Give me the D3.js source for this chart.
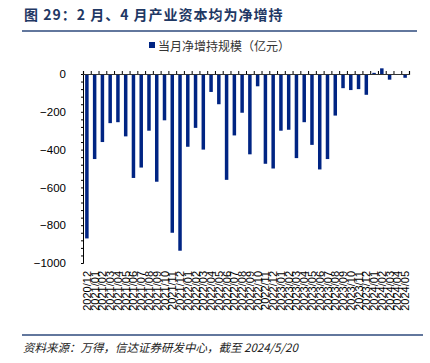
<!DOCTYPE html>
<html>
<head>
<meta charset="utf-8">
<script src="https://cdn.jsdelivr.net/npm/d3@7"></script>
<style>
  body { margin: 0; background: #fff; }
  svg { display: block; }
</style>
</head>
<body>
<div id="chart"></div>
<script>
const months = [
  "2020/12",
  "2021/01", "2021/02", "2021/03", "2021/04", "2021/05", "2021/06",
  "2021/07", "2021/08", "2021/09", "2021/10", "2021/11", "2021/12",
  "2022/01", "2022/02", "2022/03", "2022/04", "2022/05", "2022/06",
  "2022/07", "2022/08", "2022/09", "2022/10", "2022/11", "2022/12",
  "2023/01", "2023/02", "2023/03", "2023/04", "2023/05", "2023/06",
  "2023/07", "2023/08", "2023/09", "2023/10", "2023/11", "2023/12",
  "2024/01", "2024/02", "2024/03", "2024/04", "2024/05"
];
const netHold = [
  -870,
  -450, -360, -260, -255, -330, -550,
  -495, -300, -570, -245, -840, -935,
  -385, -285, -400, -95, -160, -560,
  -325, -205, -425, -65, -475, -500,
  -300, -295, -445, -255, -375, -505,
  -450, -220, -75, -85, -80, -110,
  6, 30, -30, -3, -20
];
const yTicks = [0, -200, -400, -600, -800, -1000];
const seriesName = "当月净增持规模（亿元）";
const title = "图 29：2 月、4 月产业资本均为净增持";
const source = "资料来源：万得，信达证券研发中心，截至 2024/5/20";

const W = 430, H = 363;
const margin = {top: 74, right: 21, bottom: 100, left: 83};
const width = W - margin.left - margin.right;
const height = 263 - margin.top;

const svg = d3.select("#chart").append("svg")
  .attr("width", W).attr("height", H);

// title and rules
svg.append("text")
  .attr("x", 24).attr("y", 20)
  .attr("font-family", "'Noto Sans CJK SC', sans-serif")
  .attr("font-size", 14).attr("font-weight", "bold")
  .attr("letter-spacing", 1)
  .attr("fill", "#1f3864")
  .text(title);
svg.append("line")
  .attr("x1", 22).attr("x2", 417).attr("y1", 31).attr("y2", 31)
  .attr("stroke", "#2e4a7d").attr("stroke-width", 1.5);
svg.append("line")
  .attr("x1", 22).attr("x2", 423).attr("y1", 335).attr("y2", 335)
  .attr("stroke", "#2e4a7d").attr("stroke-width", 1.5);
svg.append("text")
  .attr("x", 23).attr("y", 352)
  .attr("font-family", "'Noto Sans CJK SC', sans-serif")
  .attr("font-size", 11.5).attr("font-style", "italic")
  .attr("fill", "#222")
  .text(source);

// legend
svg.append("rect")
  .attr("x", 149).attr("y", 42).attr("width", 6).attr("height", 6)
  .attr("fill", "#002483");
svg.append("text")
  .attr("x", 158).attr("y", 50.5)
  .attr("font-family", "'Noto Sans CJK SC', sans-serif")
  .attr("font-size", 12).attr("fill", "#333")
  .text(seriesName);

const g = svg.append("g")
  .attr("transform", "translate(" + margin.left + "," + margin.top + ")");

const x = d3.scaleBand()
  .domain(months)
  .range([0, width])
  .paddingInner(0.55)
  .paddingOuter(0.275);
const y = d3.scaleLinear()
  .domain([0, -1000])
  .range([0, height]);

// bars
g.selectAll(".bar")
  .data(netHold)
  .enter().append("rect")
    .attr("class", "bar")
    .attr("x", (d, i) => x(months[i]))
    .attr("width", x.bandwidth())
    .attr("y", d => y(Math.max(0, d)))
    .attr("height", d => Math.abs(y(d) - y(0)))
    .attr("fill", "#002483");

// y axis
const yAxis = g.append("g")
  .call(d3.axisLeft(y).tickValues(d3.range(0, -1001, -40)).tickSize(2).tickFormat(""));
yAxis.select(".domain").attr("stroke", "#000");
yAxis.selectAll(".tick line").attr("stroke", "#000");
const yLab = g.append("g")
  .call(d3.axisLeft(y).tickValues(yTicks).tickSize(0).tickPadding(17)
    .tickFormat(d => d < 0 ? "\u2212" + Math.abs(d) : d));
yLab.select(".domain").remove();
yLab.selectAll("text")
  .attr("font-family", "'Liberation Sans', Arial, sans-serif")
  .attr("font-size", 11.5).attr("fill", "#000");

// x axis at zero with ticks between bands
const bounds = d3.range(months.length + 1).map(i => i * x.step());
const xs = d3.scaleLinear().domain([0, width]).range([0, width]);
const xAxis = g.append("g")
  .attr("transform", "translate(0," + y(0) + ")")
  .call(d3.axisTop(xs).tickValues(bounds).tickSize(3).tickFormat(""));
xAxis.select(".domain").attr("stroke", "#333").attr("stroke-width", 1.2);
xAxis.selectAll(".tick line").attr("stroke", "#000");

// month labels
g.append("g")
  .selectAll("text")
  .data(months)
  .enter().append("text")
    .attr("transform", d => "translate(" + (x(d) + x.bandwidth() / 2 + 4) + "," + (height + 8) + ") rotate(-90)")
    .attr("text-anchor", "end")
    .attr("font-family", "'Liberation Sans', Arial, sans-serif")
    .attr("font-size", 11).attr("fill", "#000")
    .text(d => d);
</script>
</body>
</html>
